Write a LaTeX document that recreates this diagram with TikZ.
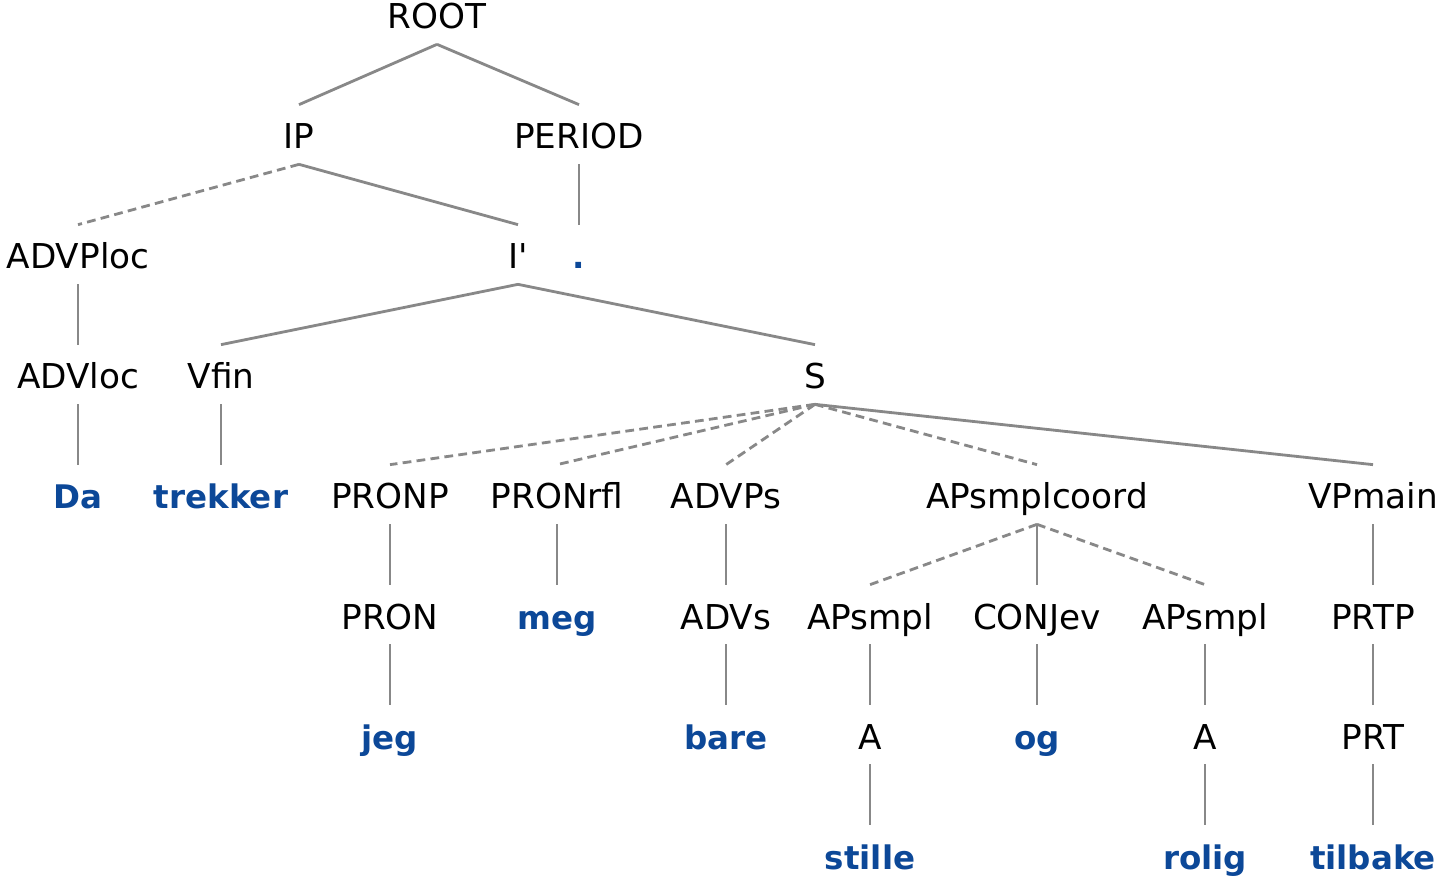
\documentclass[tikz,border=0pt]{standalone}
\usepackage{fontspec}
\setmainfont{DejaVu Sans}[Ligatures=TeXOff]
\usepackage{xcolor}
\usepackage{tikz}

\definecolor{leafblue}{RGB}{12,72,152}
\definecolor{edgegray}{RGB}{136,136,136}

\begin{document}
\begin{tikzpicture}[
    every node/.style={anchor=base, inner sep=0mm, text height=8.8mm, text depth=3mm, font=\fontsize{19.5}{23}\selectfont},
    leaf/.style={text=leafblue, font=\fontsize{18.5}{23}\selectfont\bfseries},
    edge/.style={draw=edgegray, line width=1.6pt},
    dotted edge/.style={edge, dash pattern=on 5pt off 3pt}
]
\useasboundingbox (0,0) rectangle (28.84,-17.62);

% Nodes
\node (root) at (8.74,-0.58) {ROOT};
\node (ip) at (5.98,-2.98) {IP};
\node (period) at (11.58,-2.98) {PERIOD};
\node (advploc) at (1.56,-5.38) {ADVPloc};
\node (ibar) at (10.36,-5.38) {I'};
\node[leaf] (dot) at (11.58,-5.38) {.};
\node (advloc) at (1.56,-7.78) {ADVloc};
\node (vfin) at (4.42,-7.78) {Vfin};
\node (s) at (16.30,-7.78) {S};
\node[leaf] (da) at (1.56,-10.18) {Da};
\node[leaf] (trekker) at (4.42,-10.18) {trekker};
\node (pronp) at (7.80,-10.18) {PRONP};
\node (pronrfl) at (11.14,-10.18) {PRONrfl};
\node (advps) at (14.52,-10.18) {ADVPs};
\node (apcoord) at (20.74,-10.18) {APsmplcoord};
\node (vpmain) at (27.46,-10.18) {VPmain};
\node (pron) at (7.80,-12.58) {PRON};
\node[leaf] (meg) at (11.14,-12.58) {meg};
\node (advs) at (14.52,-12.58) {ADVs};
\node (apa) at (17.40,-12.58) {APsmpl};
\node (conjev) at (20.74,-12.58) {CONJev};
\node (apb) at (24.10,-12.58) {APsmpl};
\node (prtp) at (27.46,-12.58) {PRTP};
\node[leaf] (jeg) at (7.80,-14.98) {jeg};
\node[leaf] (bare) at (14.52,-14.98) {bare};
\node (aa) at (17.40,-14.98) {A};
\node[leaf] (og) at (20.74,-14.98) {og};
\node (ab) at (24.10,-14.98) {A};
\node (prt) at (27.46,-14.98) {PRT};
\node[leaf] (stille) at (17.40,-17.38) {stille};
\node[leaf] (rolig) at (24.10,-17.38) {rolig};
\node[leaf] (tilbake) at (27.46,-17.38) {tilbake};

% Edges
\draw[edge] (root.south) -- (ip.north);
\draw[edge] (root.south) -- (period.north);
\draw[dotted edge] (ip.south) -- (advploc.north);
\draw[edge] (ip.south) -- (ibar.north);
\draw[edge] (period.south) -- (dot.north);
\draw[edge] (advploc.south) -- (advloc.north);
\draw[edge] (ibar.south) -- (vfin.north);
\draw[edge] (ibar.south) -- (s.north);
\draw[edge] (advloc.south) -- (da.north);
\draw[edge] (vfin.south) -- (trekker.north);
\draw[dotted edge] (s.south) -- (pronp.north);
\draw[dotted edge] (s.south) -- (pronrfl.north);
\draw[dotted edge] (s.south) -- (advps.north);
\draw[dotted edge] (s.south) -- (apcoord.north);
\draw[edge] (s.south) -- (vpmain.north);
\draw[edge] (pronp.south) -- (pron.north);
\draw[edge] (pronrfl.south) -- (meg.north);
\draw[edge] (advps.south) -- (advs.north);
\draw[dotted edge] (apcoord.south) -- (apa.north);
\draw[edge] (apcoord.south) -- (conjev.north);
\draw[dotted edge] (apcoord.south) -- (apb.north);
\draw[edge] (vpmain.south) -- (prtp.north);
\draw[edge] (pron.south) -- (jeg.north);
\draw[edge] (advs.south) -- (bare.north);
\draw[edge] (apa.south) -- (aa.north);
\draw[edge] (conjev.south) -- (og.north);
\draw[edge] (apb.south) -- (ab.north);
\draw[edge] (prtp.south) -- (prt.north);
\draw[edge] (aa.south) -- (stille.north);
\draw[edge] (ab.south) -- (rolig.north);
\draw[edge] (prt.south) -- (tilbake.north);

\end{tikzpicture}
\end{document}
